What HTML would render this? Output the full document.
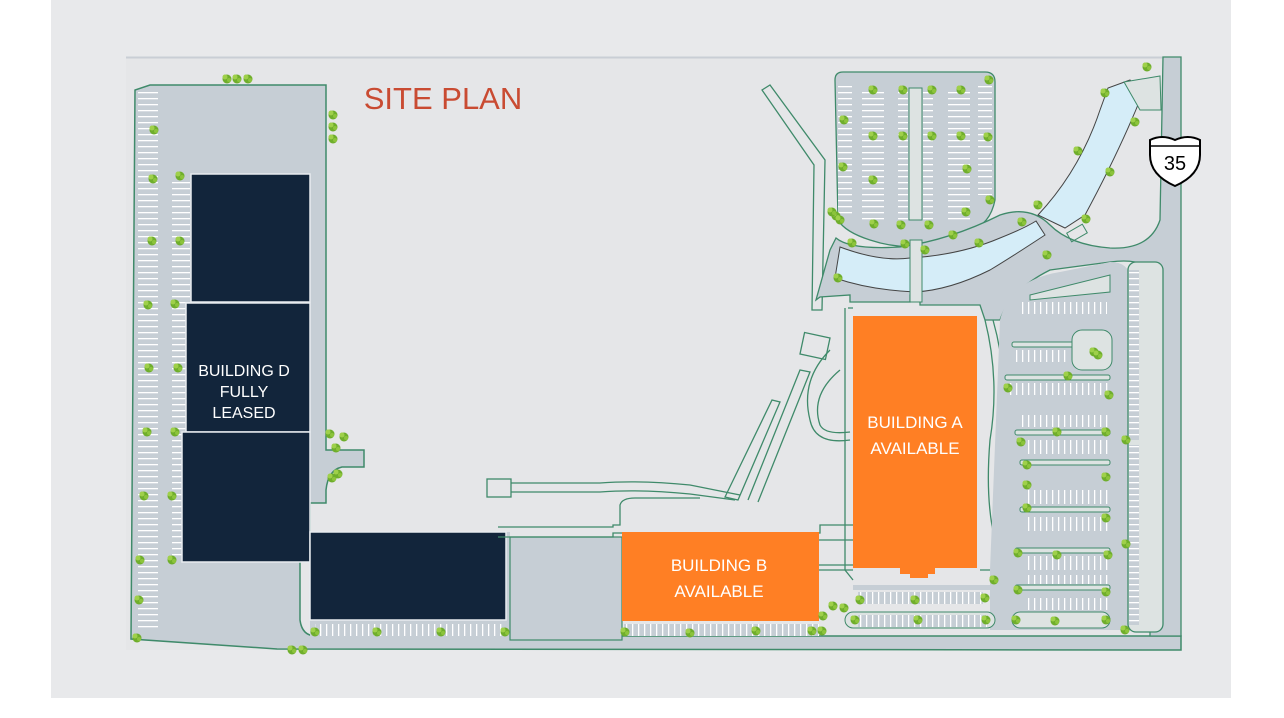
<!DOCTYPE html>
<html><head><meta charset="utf-8"><style>
html,body{margin:0;padding:0;background:#fff;width:1284px;height:718px;overflow:hidden}
svg{display:block}
</style></head><body>
<svg width="1284" height="718" viewBox="0 0 1284 718" xmlns="http://www.w3.org/2000/svg">
<defs>
<g id="t"><circle cx="0" cy="0" r="4.5" fill="#6fae2c"/><circle cx="-2" cy="-2" r="2.5" fill="#9fd04a"/><circle cx="2" cy="1" r="2" fill="#8cc43c"/></g>
<pattern id="stH" width="8" height="6" patternUnits="userSpaceOnUse"><rect width="8" height="6" fill="#c6ced5"/><rect x="0" y="2" width="8" height="1.3" fill="#fff"/></pattern>
<pattern id="stV" width="6" height="8" patternUnits="userSpaceOnUse"><rect width="6" height="8" fill="#c6ced5"/><rect x="2" y="0" width="1.3" height="8" fill="#fff"/></pattern>
</defs>
<rect x="51" y="0" width="1180" height="698" fill="#e8e9eb"/>
<rect x="126" y="57" width="1055" height="593" fill="#e5e6e8"/>
<line x1="126" y1="57.5" x2="1181" y2="57.5" stroke="#c9ced5" stroke-width="2"/>

<!-- left parking -->
<path d="M150 85 L326 85 L326 450 L364 450 L364 467 L342 467 Q328 470 326 490 L326 503 L310 503 L310 532 L300 532 L300 620 Q302 636 316 636 L1181 636 L1181 650 L277 649 L131 639 L135 90 Z" fill="#c6ced5" stroke="#3f8a6a" stroke-width="1.5"/>
<rect x="138" y="92" width="20" height="540" fill="url(#stH)"/>
<rect x="172" y="180" width="18" height="380" fill="url(#stH)"/>
<rect x="310" y="532" width="200" height="108" fill="#c6ced5"/>
<rect x="510" y="537" width="112" height="103" fill="#c6ced5" stroke="#3f8a6a" stroke-width="1.2"/>
<rect x="315" y="624" width="190" height="12" fill="url(#stV)"/>
<rect x="624" y="624" width="195" height="12" fill="url(#stV)"/>

<!-- building D -->
<g fill="#12253b" stroke="#e8ecf0" stroke-width="1.5">
<rect x="191" y="174" width="119" height="128"/>
<rect x="186" y="303" width="124" height="129"/>
<rect x="182" y="432" width="128" height="130"/>
<rect x="310" y="532" width="196" height="88"/>
</g>

<!-- walkways center -->
<g fill="none" stroke="#3f8a6a" stroke-width="1.3">
<rect x="487" y="479" width="24" height="18"/>
<path d="M511 483 L600 483 Q640 480 690 485 L740 495"/>
<path d="M511 492 L600 492 Q640 489 690 494 L735 500"/>
<path d="M498 527 L613 527 L613 525 L620 525 L620 505 Q622 498 635 498 L700 498"/>
<path d="M498 537 L613 537 L613 533 L820 533 L820 525 L853 525"/>
<path d="M738 500 L780 402 L772 400 L725 497 Z"/>
<path d="M748 500 L800 370 L810 372 L758 502"/>
<path d="M818 540 L853 540 M818 565 L853 565 M818 570 L853 570"/>
<path d="M762 90 L770 85 L825 160 L822 310 L812 310 L814 165 Z"/>
<rect x="802" y="335" width="26" height="22" transform="rotate(12 815 346)"/>
<path d="M830 350 Q800 380 810 420 Q815 445 850 440"/>
<path d="M840 370 Q810 395 820 425 Q825 435 850 432"/>
<path d="M848 308 L853 308 M845 308 L845 570 L853 580"/>
<path d="M985 320 Q1000 380 990 440 Q985 500 995 540 L995 570 L980 570"/>
<path d="M993 320 Q1010 380 1000 440 Q995 500 1005 560"/>
</g>

<!-- top parking -->
<path d="M843 72 L985 72 Q995 72 995 82 L995 200 Q990 225 970 230 L930 245 Q900 250 870 240 Q845 232 838 220 L835 80 Q835 72 843 72 Z" fill="#c6ced5" stroke="#3f8a6a" stroke-width="1.3"/>
<rect x="838" y="85" width="14" height="130" fill="url(#stH)"/>
<rect x="862" y="90" width="22" height="130" fill="url(#stH)"/>
<rect x="898" y="90" width="10" height="130" fill="url(#stH)"/>
<rect x="923" y="90" width="10" height="130" fill="url(#stH)"/>
<rect x="948" y="90" width="22" height="130" fill="url(#stH)"/>
<rect x="978" y="85" width="14" height="110" fill="url(#stH)"/>
<rect x="909" y="88" width="13" height="132" fill="#dde3e2" stroke="#3f8a6a" stroke-width="1"/>

<!-- road loop -->
<path d="M836 238 Q850 250 900 247 Q950 240 1000 215 Q1030 205 1050 225 Q1070 245 1110 248 Q1150 250 1160 220 L1163 57 L1181 57 L1181 636 L1150 636 L1150 270 Q1140 258 1110 262 L1050 270 Q1010 290 1000 320 L985 320 L980 305 L920 305 L920 295 L910 295 L910 302 L850 302 L850 295 L820 297 L816 300 L830 250 Z" fill="#c6ced5" stroke="#3f8a6a" stroke-width="1.3"/>

<!-- water -->
<path d="M840 247 Q880 262 910 258 Q960 255 1000 238 Q1025 228 1036 221 L1045 235 Q1010 258 990 270 Q950 290 915 292 Q870 290 835 278 Z" fill="#d5edf8" stroke="#444" stroke-width="1"/>
<path d="M1038 215 Q1080 170 1100 110 L1108 88 L1130 80 L1142 95 Q1120 150 1085 215 L1065 228 Z" fill="#d5edf8" stroke="#444" stroke-width="1"/>
<path d="M1124 82 L1160 76 L1161 110 L1140 110 Z" fill="#dde3e2" stroke="#3f8a6a" stroke-width="1"/>
<rect x="910" y="240" width="12" height="62" fill="#dde3e2" stroke="#3f8a6a" stroke-width="1"/>
<rect x="1068" y="228" width="18" height="10" transform="rotate(-30 1077 233)" fill="none" stroke="#3f8a6a"/>

<!-- right lot -->
<path d="M1000 320 Q1010 280 1060 272 L1110 262 Q1130 262 1130 280 L1130 630 L990 630 L990 570 Z" fill="#c6ced5"/>
<rect x="1128" y="262" width="35" height="370" rx="8" fill="#dde3e2" stroke="#3f8a6a" stroke-width="1.3"/>
<rect x="1129" y="270" width="10" height="170" fill="url(#stH)"/>
<rect x="1129" y="445" width="10" height="180" fill="url(#stH)"/>
<path d="M1030 295 L1110 275 L1110 292 L1030 300 Z" fill="#dde3e2" stroke="#3f8a6a"/>
<g fill="#dde3e2" stroke="#3f8a6a" stroke-width="1">
<rect x="1012" y="342" width="98" height="5" rx="2"/>
<rect x="1072" y="330" width="40" height="40" rx="10"/>
<rect x="1005" y="375" width="105" height="5" rx="2"/>
<rect x="1015" y="430" width="95" height="5" rx="2"/>
<rect x="1020" y="460" width="90" height="5" rx="2"/>
<rect x="1020" y="507" width="90" height="5" rx="2"/>
<rect x="1015" y="548" width="95" height="5" rx="2"/>
<rect x="1015" y="585" width="95" height="5" rx="2"/>
<rect x="1012" y="612" width="98" height="16" rx="8"/>
<rect x="845" y="612" width="150" height="16" rx="8"/>
</g>
<g fill="url(#stV)">
<rect x="1022" y="302" width="85" height="12"/>
<rect x="1015" y="350" width="55" height="12"/>
<rect x="1010" y="383" width="100" height="12"/>
<rect x="1020" y="415" width="90" height="12"/>
<rect x="1025" y="440" width="85" height="14"/>
<rect x="1025" y="490" width="85" height="14"/>
<rect x="1025" y="517" width="85" height="14"/>
<rect x="1025" y="556" width="85" height="14"/>
<rect x="1025" y="575" width="85" height="9"/>
<rect x="1025" y="598" width="85" height="12"/>
<rect x="858" y="592" width="125" height="12"/>
<rect x="858" y="615" width="130" height="12"/>
</g>
<rect x="853" y="585" width="140" height="5" fill="#c6ced5"/>

<!-- buildings orange -->
<rect x="622" y="532" width="197" height="89" fill="#ff7f24"/>
<path d="M853 316 L977 316 L977 568 L935 568 L935 574 L928 574 L928 578 L910 578 L910 574 L900 574 L900 568 L853 568 Z" fill="#ff7f24"/>

<!-- shield -->
<path d="M1150 140 Q1162 134 1175 140 Q1188 134 1200 140 L1200 155 Q1200 175 1175 186 Q1150 175 1150 155 Z" fill="#fff" stroke="#000" stroke-width="2"/>
<line x1="1151" y1="146" x2="1199" y2="146" stroke="#000" stroke-width="1.5"/>
<text x="1175" y="170" font-family="Liberation Sans, sans-serif" font-size="20" text-anchor="middle" fill="#000">35</text>

<!-- texts -->
<text x="443" y="109" font-family="Liberation Sans, sans-serif" font-size="31" text-anchor="middle" fill="#c94b32">SITE PLAN</text>
<g font-family="Liberation Sans, sans-serif" font-size="16" fill="#fff" text-anchor="middle">
<text x="244" y="376">BUILDING D</text>
<text x="244" y="397">FULLY</text>
<text x="244" y="418">LEASED</text>
<text x="719" y="571" font-size="17">BUILDING B</text>
<text x="719" y="597" font-size="17">AVAILABLE</text>
<text x="915" y="428" font-size="17">BUILDING A</text>
<text x="915" y="454" font-size="17">AVAILABLE</text>
</g>

<!-- trees -->
<g>
<use href="#t" x="227" y="79"/><use href="#t" x="237" y="79"/><use href="#t" x="248" y="79"/>
<use href="#t" x="333" y="115"/><use href="#t" x="333" y="127"/><use href="#t" x="333" y="139"/>
<use href="#t" x="154" y="130"/><use href="#t" x="153" y="179"/><use href="#t" x="180" y="176"/>
<use href="#t" x="152" y="241"/><use href="#t" x="180" y="241"/><use href="#t" x="148" y="305"/><use href="#t" x="175" y="304"/>
<use href="#t" x="149" y="368"/><use href="#t" x="178" y="368"/><use href="#t" x="147" y="432"/><use href="#t" x="175" y="432"/>
<use href="#t" x="144" y="496"/><use href="#t" x="172" y="496"/><use href="#t" x="140" y="560"/><use href="#t" x="172" y="560"/>
<use href="#t" x="139" y="600"/><use href="#t" x="137" y="638"/>
<use href="#t" x="330" y="434"/><use href="#t" x="344" y="437"/><use href="#t" x="336" y="448"/><use href="#t" x="338" y="474"/><use href="#t" x="332" y="478"/>
<use href="#t" x="315" y="632"/><use href="#t" x="377" y="632"/><use href="#t" x="441" y="632"/><use href="#t" x="505" y="632"/>
<use href="#t" x="625" y="632"/><use href="#t" x="690" y="633"/><use href="#t" x="756" y="631"/><use href="#t" x="812" y="631"/><use href="#t" x="822" y="631"/>
<use href="#t" x="292" y="650"/><use href="#t" x="303" y="650"/>
<use href="#t" x="873" y="90"/><use href="#t" x="903" y="90"/><use href="#t" x="932" y="90"/><use href="#t" x="961" y="90"/><use href="#t" x="989" y="80"/>
<use href="#t" x="844" y="120"/><use href="#t" x="873" y="136"/><use href="#t" x="903" y="136"/><use href="#t" x="932" y="136"/><use href="#t" x="961" y="136"/><use href="#t" x="988" y="137"/>
<use href="#t" x="843" y="167"/><use href="#t" x="873" y="180"/><use href="#t" x="967" y="169"/><use href="#t" x="990" y="200"/><use href="#t" x="966" y="212"/>
<use href="#t" x="836" y="216"/><use href="#t" x="840" y="220"/><use href="#t" x="832" y="212"/>
<use href="#t" x="874" y="224"/><use href="#t" x="901" y="225"/><use href="#t" x="929" y="225"/><use href="#t" x="953" y="235"/><use href="#t" x="979" y="243"/>
<use href="#t" x="852" y="243"/><use href="#t" x="905" y="244"/><use href="#t" x="925" y="250"/><use href="#t" x="1022" y="222"/><use href="#t" x="1038" y="205"/><use href="#t" x="1047" y="255"/>
<use href="#t" x="838" y="278"/><use href="#t" x="1078" y="151"/><use href="#t" x="1110" y="172"/><use href="#t" x="1105" y="93"/><use href="#t" x="1135" y="122"/><use href="#t" x="1147" y="67"/>
<use href="#t" x="1086" y="219"/><use href="#t" x="1094" y="352"/><use href="#t" x="1098" y="355"/>
<use href="#t" x="1008" y="388"/><use href="#t" x="1068" y="376"/><use href="#t" x="1109" y="395"/><use href="#t" x="1021" y="442"/><use href="#t" x="1057" y="432"/><use href="#t" x="1106" y="432"/>
<use href="#t" x="1126" y="440"/><use href="#t" x="1027" y="465"/><use href="#t" x="1027" y="485"/><use href="#t" x="1106" y="477"/><use href="#t" x="1027" y="508"/><use href="#t" x="1106" y="518"/>
<use href="#t" x="1126" y="544"/><use href="#t" x="1018" y="553"/><use href="#t" x="1057" y="555"/><use href="#t" x="1108" y="555"/><use href="#t" x="1018" y="590"/><use href="#t" x="1106" y="592"/>
<use href="#t" x="1016" y="620"/><use href="#t" x="1055" y="621"/><use href="#t" x="1106" y="620"/><use href="#t" x="1125" y="630"/>
<use href="#t" x="994" y="580"/><use href="#t" x="985" y="598"/><use href="#t" x="915" y="600"/><use href="#t" x="860" y="600"/><use href="#t" x="844" y="608"/><use href="#t" x="833" y="606"/><use href="#t" x="823" y="616"/>
<use href="#t" x="855" y="620"/><use href="#t" x="918" y="620"/><use href="#t" x="986" y="620"/>
</g>
</svg>
</body></html>
